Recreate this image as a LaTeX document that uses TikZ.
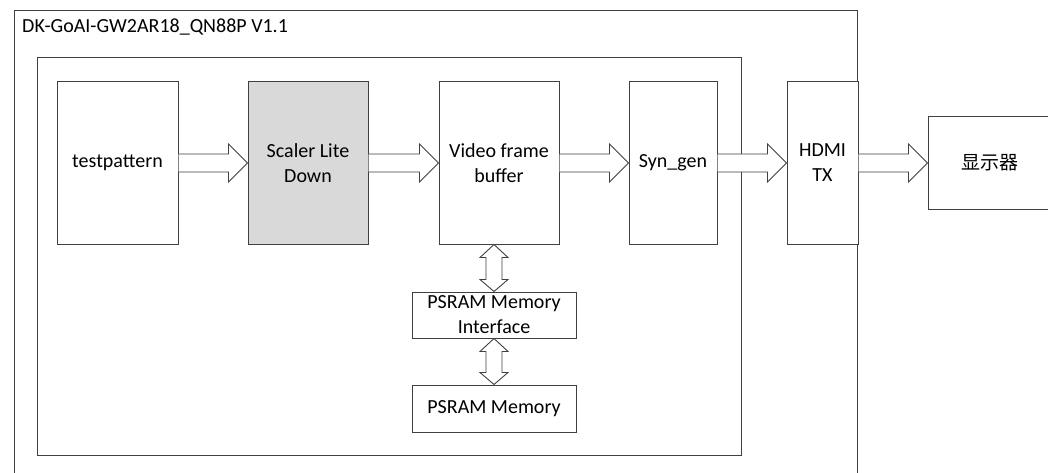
\documentclass[tikz,border=0pt]{standalone}
\usepackage{fontspec}
\setmainfont{Carlito}
\newfontfamily\cjk{Noto Sans CJK SC}
\usetikzlibrary{calc}
\definecolor{ln}{HTML}{404040}
\definecolor{gfill}{HTML}{D9D9D9}
\tikzset{
  box/.style={draw=ln, line width=1pt, fill=white, rectangle, inner sep=0pt, align=center,
    font=\fontsize{20}{25}\selectfont},
  frame/.style={draw=ln, line width=1pt},
  barrow/.style={draw=ln, line width=0.9pt, fill=white, line join=miter},
}
\newcommand\harrow[2]{%
  \draw[barrow] ($(#1.east)+(0,-9)$) -- ($(#2.west)+(-19,-9)$) -- ($(#2.west)+(-19,-19)$)
    -- (#2.west) -- ($(#2.west)+(-19,19)$) -- ($(#2.west)+(-19,9)$) -- ($(#1.east)+(0,9)$);}
\newcommand\varrow[2]{% #1 upper node, #2 lower node; arrow on x of #2
  \coordinate (vt) at (#1.south -| #2.north);
  \coordinate (vb) at (#2.north);
  \draw[barrow] (vt) -- ($(vt)+(14,13)$) -- ($(vt)+(8,13)$) -- ($(vb)+(8,-12)$) -- ($(vb)+(14,-12)$)
    -- (vb) -- ($(vb)+(-14,-12)$) -- ($(vb)+(-8,-12)$) -- ($(vt)+(-8,13)$) -- ($(vt)+(-14,13)$) -- cycle;}
\begin{document}
\begin{tikzpicture}[x=1pt,y=-1pt]
\clip (0,0) rectangle (1048,473);
\fill[white] (0,0) rectangle (1048,473);
\draw[frame] (14,11) rectangle (857,490);
\node[anchor=base west, inner sep=0pt, font=\fontsize{20}{25}\selectfont] (title) at (22,33) {DK-GoAI-GW2AR18\_QN88P V1.1};
\draw[frame] (37,58) rectangle (741,455);
\node[box, minimum width=121pt, minimum height=162pt] (tp) at (117.5,163) {testpattern};
\node[box, fill=gfill, minimum width=120pt, minimum height=162pt] (sc) at (308,163) {Scaler Lite\\Down};
\node[box, minimum width=120pt, minimum height=162pt] (vfb) at (499,163) {Video frame\\buffer};
\node[box, minimum width=88pt, minimum height=162pt] (syn) at (673,163) {Syn\_gen};
\node[box, minimum width=71pt, minimum height=162pt] (hdmi) at (822.5,163) {HDMI\\TX};
\node[box, minimum width=124pt, minimum height=92pt] (disp) at (990,163) {\cjk\fontsize{19}{24}\selectfont 显示器};
\node[box, minimum width=164pt, minimum height=46pt] (psi) at (494,315) {PSRAM Memory\\Interface};
\node[box, minimum width=164pt, minimum height=47pt] (psm) at (494,408.5) {PSRAM Memory};
\harrow{tp}{sc}
\harrow{sc}{vfb}
\harrow{vfb}{syn}
\harrow{syn}{hdmi}
\harrow{hdmi}{disp}
\varrow{vfb}{psi}
\varrow{psi}{psm}
\end{tikzpicture}
\end{document}
